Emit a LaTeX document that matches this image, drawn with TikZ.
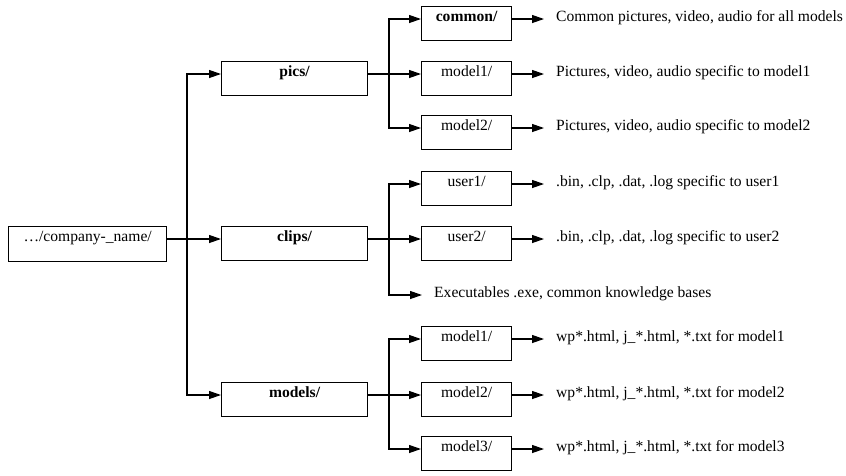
\documentclass[tikz,border=0pt]{standalone}
\usepackage{fontspec}
\setmainfont{Liberation Serif}
\usetikzlibrary{arrows.meta}
\begin{document}
\begin{tikzpicture}[x=1pt,y=1pt,
  every node/.style={font=\fontsize{15.6}{18}\selectfont},
  boxbase/.style={draw, line width=1.3pt, inner ysep=0pt, inner xsep=0pt, text height=14.6pt, text depth=19.4pt, anchor=mid west, align=center},
  bigbox/.style={boxbase, minimum width=146pt},
  smallbox/.style={boxbase, minimum width=90pt},
  rootbox/.style={boxbase, minimum width=158pt, text depth=20.4pt},
  desc/.style={anchor=mid west, inner xsep=12pt, inner ysep=0pt},
  arr/.style={line width=1.2pt, -{Triangle[length=12pt,width=8pt]}},
]
\useasboundingbox (0,0) rectangle (846,-475);
% level 0
\node[rootbox] (root) at (8,-239) {\textellipsis/company-\_name/};
% level 1
\node[bigbox] (pics) at (221,-74) {\textbf{pics/}};
\node[bigbox] (clips) at (221,-239) {\textbf{clips/}};
\node[bigbox] (models) at (221,-395) {\textbf{models/}};
% level 2 - pics
\node[smallbox] (pc) at (421,-19) {\textbf{common/}};
\node[smallbox] (pm1) at (421,-74) {model1/};
\node[smallbox] (pm2) at (421,-128) {model2/};
% level 2 - clips
\node[smallbox] (cu1) at (421,-184) {user1/};
\node[smallbox] (cu2) at (421,-239) {user2/};
\node[desc] (exe) at (422,-295) {Executables .exe, common knowledge bases};
% level 2 - models
\node[smallbox] (mm1) at (421,-339) {model1/};
\node[smallbox] (mm2) at (421,-395) {model2/};
\node[smallbox] (mm3) at (421,-449) {model3/};
% descriptions
\node[desc] (dpc) at (544,-19) {Common pictures, video, audio for all models};
\node[desc] (dpm1) at (544,-74) {Pictures, video, audio specific to model1};
\node[desc] (dpm2) at (544,-128) {Pictures, video, audio specific to model2};
\node[desc] (dcu1) at (544,-184) {.bin, .clp, .dat, .log specific to user1};
\node[desc] (dcu2) at (544,-239) {.bin, .clp, .dat, .log specific to user2};
\node[desc] (dmm1) at (544,-339) {wp*.html, j\_*.html, *.txt for model1};
\node[desc] (dmm2) at (544,-395) {wp*.html, j\_*.html, *.txt for model2};
\node[desc] (dmm3) at (544,-449) {wp*.html, j\_*.html, *.txt for model3};
% junctions
\coordinate (j0) at (187,-239);
\coordinate (j1) at (389,-74);
\coordinate (j2) at (389,-239);
\coordinate (j3) at (389,-395);
% level 0 -> 1
\draw[arr] (root.mid east) -- (clips.mid west);
\draw[arr] (j0) |- (pics.mid west);
\draw[arr] (j0) |- (models.mid west);
% pics
\draw[arr] (pics.mid east) -- (pm1.mid west);
\draw[arr] (j1) |- (pc.mid west);
\draw[arr] (j1) |- (pm2.mid west);
% clips
\draw[arr] (clips.mid east) -- (cu2.mid west);
\draw[arr] (j2) |- (cu1.mid west);
\draw[arr] (j2) |- (exe.mid west);
% models
\draw[arr] (models.mid east) -- (mm2.mid west);
\draw[arr] (j3) |- (mm1.mid west);
\draw[arr] (j3) |- (mm3.mid west);
% descriptions
\draw[arr] (pc.mid east) -- (dpc.mid west);
\draw[arr] (pm1.mid east) -- (dpm1.mid west);
\draw[arr] (pm2.mid east) -- (dpm2.mid west);
\draw[arr] (cu1.mid east) -- (dcu1.mid west);
\draw[arr] (cu2.mid east) -- (dcu2.mid west);
\draw[arr] (mm1.mid east) -- (dmm1.mid west);
\draw[arr] (mm2.mid east) -- (dmm2.mid west);
\draw[arr] (mm3.mid east) -- (dmm3.mid west);
\end{tikzpicture}
\end{document}
